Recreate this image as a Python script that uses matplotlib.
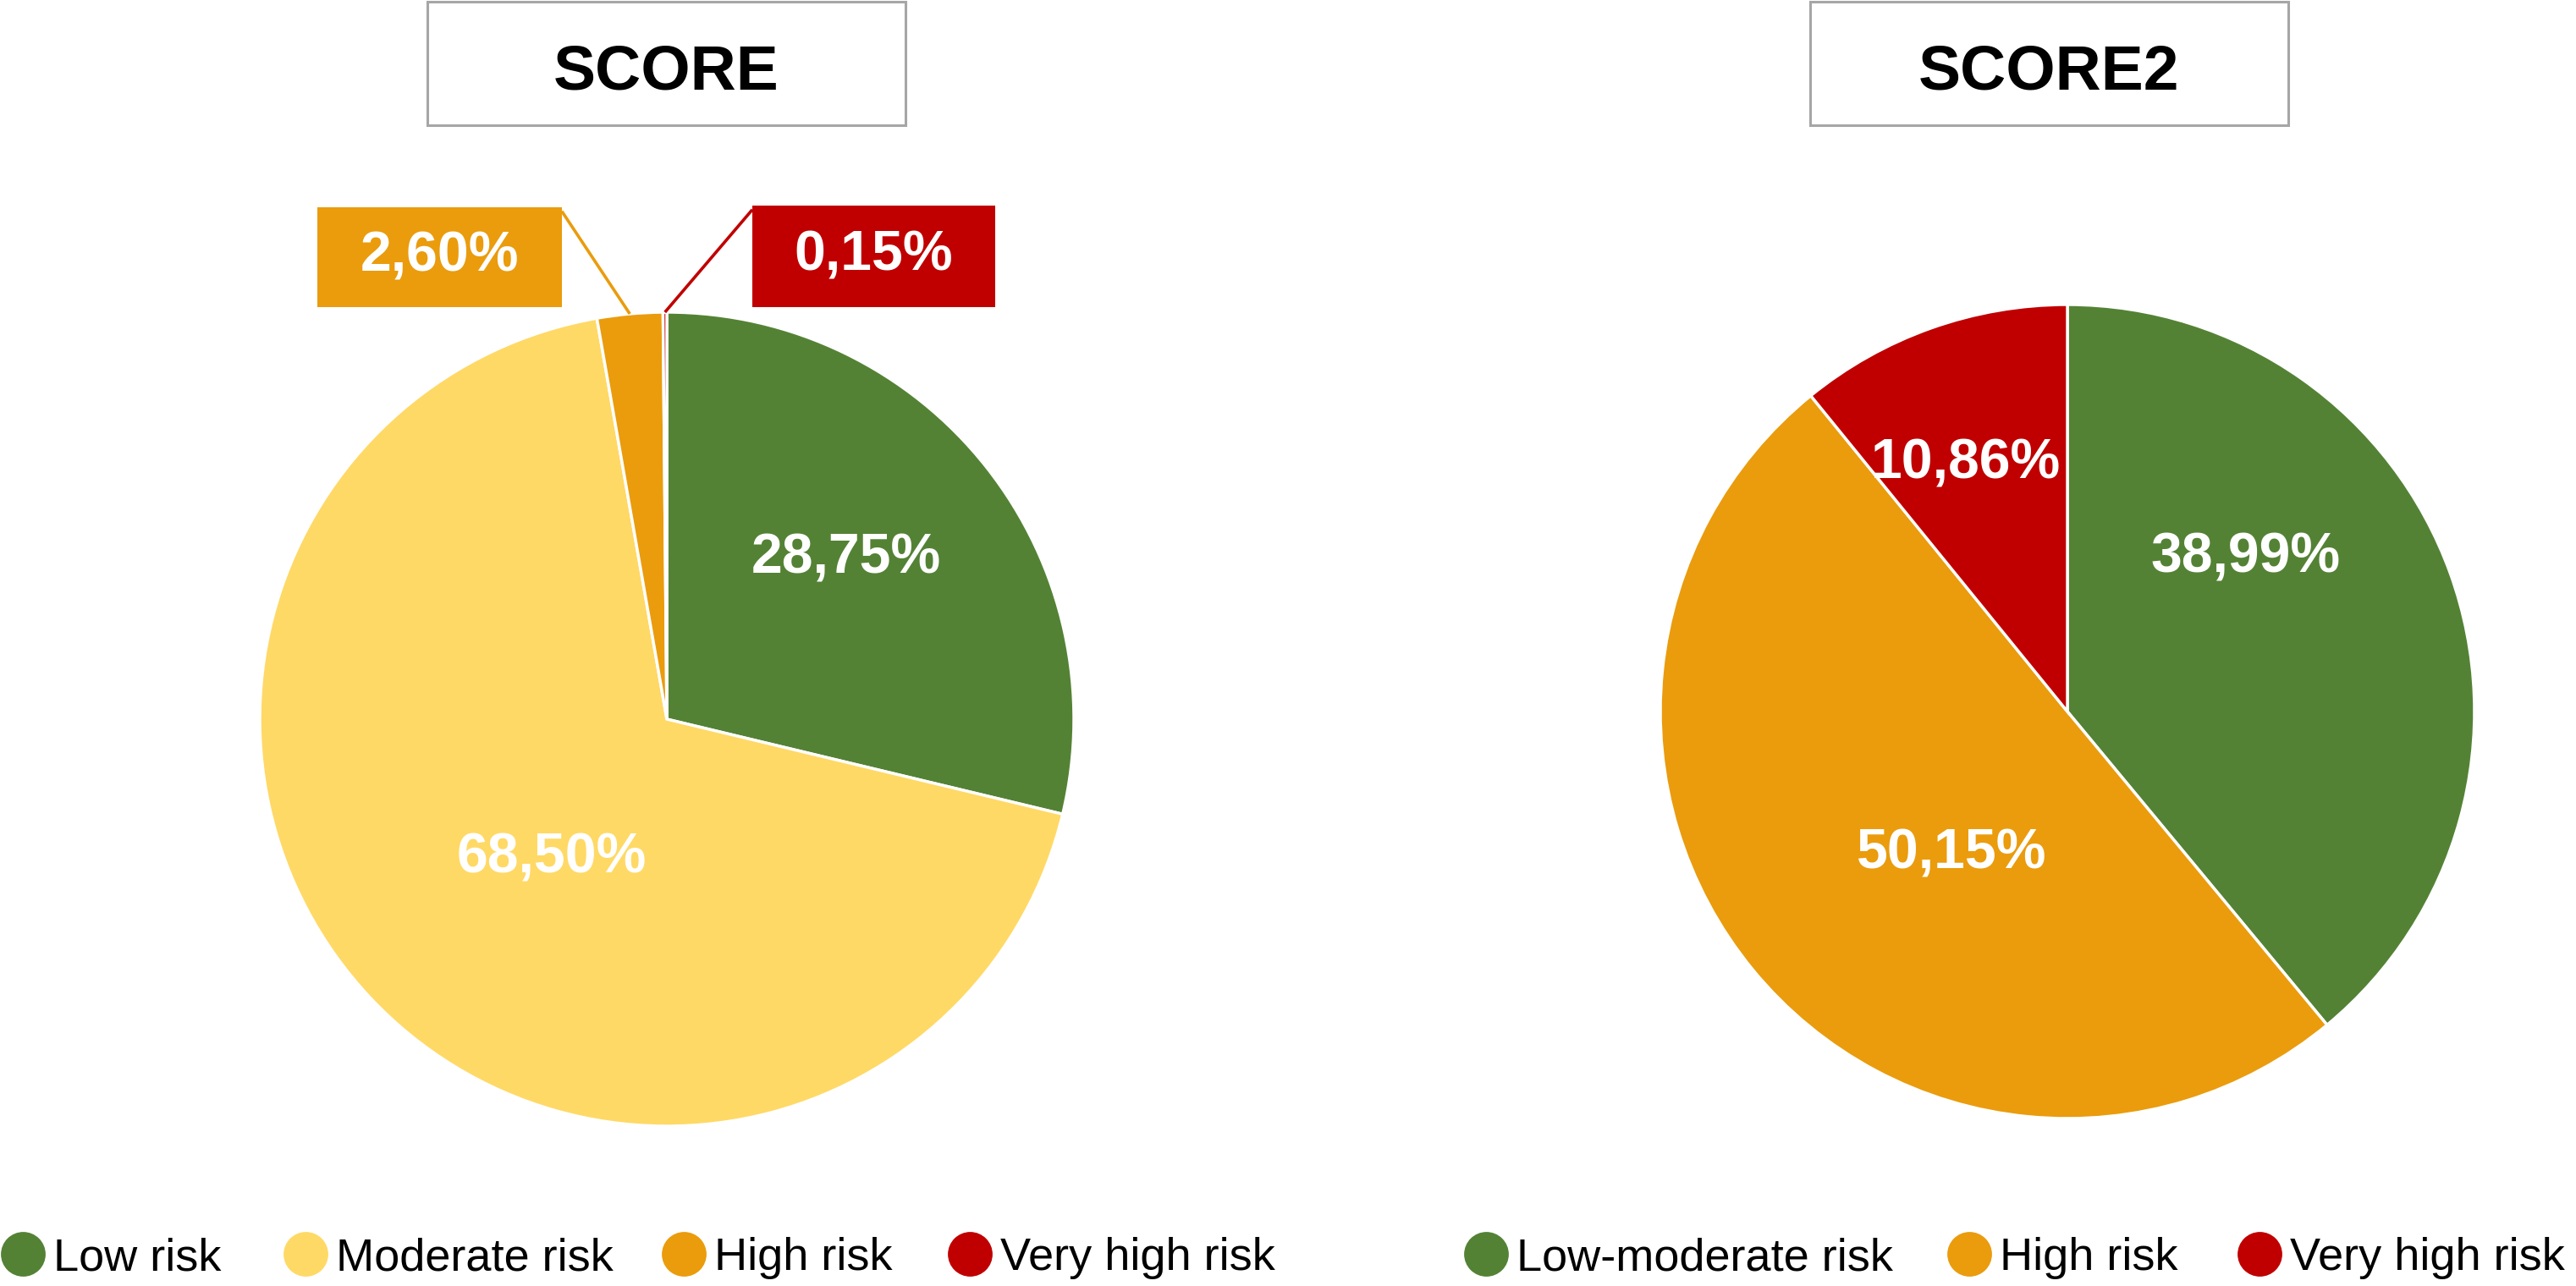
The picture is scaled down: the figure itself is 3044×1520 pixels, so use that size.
import numpy as np
import matplotlib.pyplot as plt
from matplotlib.patches import Rectangle
from matplotlib.lines import Line2D

plt.rcParams['font.family'] = ['Liberation Sans', 'DejaVu Sans']

# SCORE
score_labels = ['Low risk', 'Moderate risk', 'High risk', 'Very high risk']
score_values = [28.75, 68.50, 2.60, 0.15]
score_colors = ['#548235', '#FFD966', '#EA9C0D', '#C00000']

# SCORE2
score2_labels = ['Low-moderate risk', 'High risk', 'Very high risk']
score2_values = [38.99, 50.15, 10.86]
score2_colors = ['#548235', '#EA9C0D', '#C00000']

W, H, DPI = 3044, 1520, 200
R = 481  # pie radius in px
LIM = 1.3


def fmt(v):
    return f"{v:.2f}".replace('.', ',') + '%'


fig = plt.figure(figsize=(W / DPI, H / DPI), dpi=DPI)


def pie_axes(cx, cy):
    s = 2 * LIM * R
    return fig.add_axes([(cx - s / 2) / W, (H - cy - s / 2) / H, s / W, s / H])


def title_box(x0, x1, text):
    fig.patches.append(Rectangle((x0 / W, (H - 148) / H), (x1 - x0) / W, 146 / H,
                                 transform=fig.transFigure, fill=False,
                                 ec='#A6A6A6', lw=1.1))
    fig.text((x0 + x1) / 2 / W, 1 - 105 / H, text, ha='center', va='baseline',
             fontsize=27, fontweight='bold')


def draw_pie(ax, values, colors):
    wedges, _ = ax.pie(values, colors=colors, startangle=90, counterclock=False,
                       wedgeprops=dict(edgecolor='white', linewidth=1.25))
    ax.set_xlim(-LIM, LIM)
    ax.set_ylim(-LIM, LIM)
    return wedges


def legend_items(labels, colors, xs):
    for lab, col, x in zip(labels, colors, xs):
        h = Line2D([], [], ls='none', marker='o', ms=19, mfc=col, mec=col, mew=0)
        fig.legend(handles=[h], labels=[lab], loc='center left',
                   bbox_to_anchor=(x / W, 1 - 1487 / H), frameon=False,
                   borderpad=0, borderaxespad=0, handlelength=1,
                   handletextpad=0.17, fontsize=19.5)


# ---- left pie
ax1 = pie_axes(788, 850)
w1 = draw_pie(ax1, score_values, score_colors)
inside1 = [(0.44, 0.395), (-0.283, -0.343)]
for (x, y), v in zip(inside1, score_values[:2]):
    ax1.text(x, y, fmt(v), ha='center', va='center', color='white',
             fontsize=23.8, fontweight='bold')

# callouts for the two small slices
boxes = [(-0.859, 1.0125, 0.601, 0.2455), (0.21, 1.0125, 0.597, 0.2495)]
corner = [(1, 1), (0, 1)]
for w, (bx, by, bw, bh), (cx, cy), v, col in zip(w1[2:], boxes, corner,
                                                 score_values[2:], score_colors[2:]):
    ax1.add_patch(Rectangle((bx, by), bw, bh, fc=col, ec='none'))
    ax1.text(bx + bw / 2, by + bh / 2, fmt(v), ha='center', va='center',
             color='white', fontsize=23.8, fontweight='bold')
    mid = np.deg2rad((w.theta1 + w.theta2) / 2)
    ax1.plot([np.cos(mid), bx + cx * bw], [np.sin(mid), by + cy * bh - 0.01],
             color=col, lw=1.3, solid_capstyle='butt')

title_box(505, 1070, 'SCORE')
legend_items(score_labels, score_colors, [0, 334, 781, 1119])

# ---- right pie
ax2 = pie_axes(2443, 841)
w2 = draw_pie(ax2, score2_values, score2_colors)
inside2 = [(0.4375, 0.377), (-0.285, -0.35), (-0.25, 0.608)]
for (x, y), v in zip(inside2, score2_values):
    ax2.text(x, y, fmt(v), ha='center', va='center', color='white',
             fontsize=23.8, fontweight='bold')

title_box(2139, 2704, 'SCORE2')
legend_items(score2_labels, score2_colors, [1729, 2300, 2643])

fig.savefig('out.png', dpi=DPI)
